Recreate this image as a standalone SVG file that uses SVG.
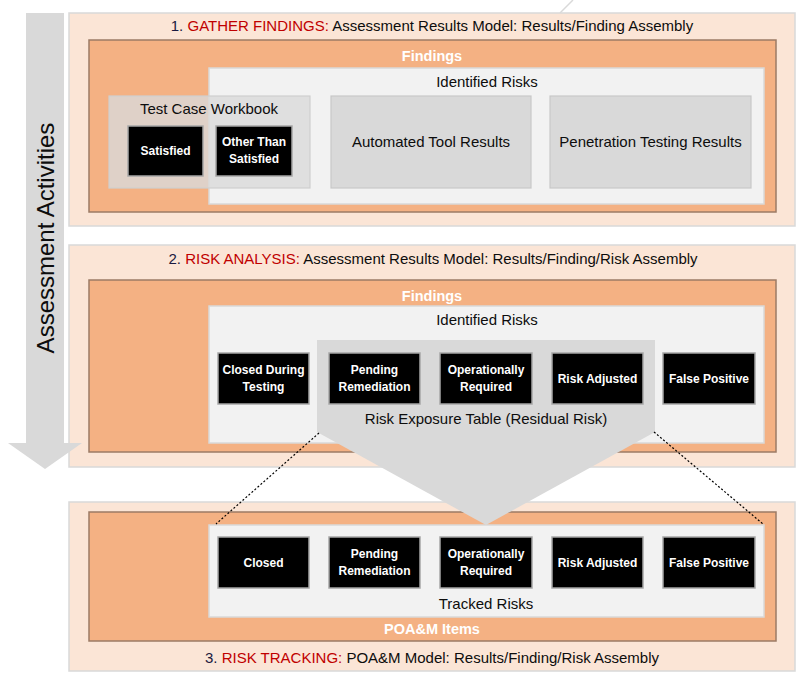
<svg xmlns="http://www.w3.org/2000/svg" width="805" height="685" viewBox="0 0 805 685">
<style>
text{font-family:"Liberation Sans",Arial,sans-serif;}
.outer{fill:#fbe5d6;stroke:#d9d9d9;stroke-width:1.5}
.orange{fill:#f4b183;stroke:#9c7b65;stroke-width:1.5}
.light{fill:#f2f2f2;stroke:#d9d9d9;stroke-width:1.5}
.gbox{fill:#d9d9d9;stroke:#c8c8c8;stroke-width:1.2}
.blk{fill:#000;stroke:#a6a6a6;stroke-width:1.5}
.bt{fill:#fff;font-weight:bold;font-size:12px;text-anchor:middle}
.title{font-size:15px;text-anchor:middle;fill:#0d0d0d}
.num{fill:#1a1a40}
.red{fill:#c00000}
.wt{fill:#fff;font-weight:bold;font-size:14.5px;text-anchor:middle}
.lab{font-size:15px;text-anchor:middle;fill:#0d0d0d}
.dot{stroke:#000;stroke-width:1.2;stroke-dasharray:2 2;fill:none}
</style>
<line x1="560" y1="13" x2="573" y2="0" stroke="#d9d9d9" stroke-width="1.5"/>
<g id="section1">
<rect class="outer" x="69" y="13" width="726" height="213"/>
<text class="title" x="432" y="31"><tspan class="num">1. </tspan><tspan class="red">GATHER FINDINGS:</tspan> Assessment Results Model: Results/Finding Assembly</text>
<rect class="orange" x="89" y="40" width="687" height="172"/>
<text class="wt" x="432" y="61">Findings</text>
<rect class="light" x="209" y="68" width="555" height="136"/>
<text class="lab" x="487" y="87">Identified Risks</text>
<g id="testcase">
<rect x="109" y="96" width="201" height="92" fill="#d9d9d9" fill-opacity="0.8" stroke="#cfcfcf" stroke-width="1.2"/>
<text class="lab" x="209" y="114">Test Case Workbook</text>
</g>
<g id="satisfied"><rect class="blk" x="128" y="126" width="75" height="50"/><text class="bt" x="165.5" y="155">Satisfied</text></g>
<g id="otherthan"><rect class="blk" x="216" y="126" width="76" height="50"/><text class="bt" x="254" y="146">Other Than</text><text class="bt" x="254" y="163">Satisfied</text></g>
<g id="automated"><rect class="gbox" x="331" y="96" width="200" height="92"/><text class="lab" x="431" y="147">Automated Tool Results</text></g>
<g id="pentest"><rect class="gbox" x="550" y="96" width="201" height="92"/><text class="lab" x="650.5" y="147">Penetration Testing Results</text></g>
</g>
<g id="section2">
<rect class="outer" x="69" y="245" width="726" height="222"/>
<text class="title" x="433" y="264"><tspan class="num">2. </tspan><tspan class="red">RISK ANALYSIS:</tspan> Assessment Results Model: Results/Finding/Risk Assembly</text>
<rect class="orange" x="89" y="280" width="687" height="172"/>
<text class="wt" x="432" y="301">Findings</text>
<rect class="light" x="209" y="306" width="555" height="137"/>
<text class="lab" x="487" y="325">Identified Risks</text>
</g>
<g id="section3">
<rect class="outer" x="69" y="502" width="726" height="169"/>
<rect class="orange" x="89" y="512" width="687" height="129"/>
<rect class="light" x="209" y="525" width="555" height="92"/>
<text class="lab" x="486" y="609">Tracked Risks</text>
<text class="wt" x="432" y="634">POA&amp;M Items</text>
<text class="title" x="432" y="663"><tspan class="num">3. </tspan><tspan class="red">RISK TRACKING:</tspan> POA&amp;M Model: Results/Finding/Risk Assembly</text>
</g>
<g id="riskexposure">
<polygon points="317,340 655,340 655,432 486,525 317,432" fill="#d9d9d9"/>
<text class="lab" x="486" y="424">Risk Exposure Table (Residual Risk)</text>
</g>
<g id="analysis-boxes">
<g id="closedduring"><rect class="blk" x="218" y="353" width="91" height="51"/><text class="bt" x="263.5" y="374">Closed During</text><text class="bt" x="263.5" y="391">Testing</text></g>
<g id="pending2"><rect class="blk" x="329" y="353" width="91" height="51"/><text class="bt" x="374.5" y="374">Pending</text><text class="bt" x="374.5" y="391">Remediation</text></g>
<g id="oper2"><rect class="blk" x="440" y="353" width="92" height="51"/><text class="bt" x="486" y="374">Operationally</text><text class="bt" x="486" y="391">Required</text></g>
<g id="riskadj2"><rect class="blk" x="552" y="353" width="91" height="51"/><text class="bt" x="597.5" y="383">Risk Adjusted</text></g>
<g id="falsepos2"><rect class="blk" x="663" y="353" width="92" height="51"/><text class="bt" x="709" y="383">False Positive</text></g>
</g>
<g id="tracking-boxes">
<g id="closed3"><rect class="blk" x="218" y="537" width="91" height="51"/><text class="bt" x="263.5" y="567">Closed</text></g>
<g id="pending3"><rect class="blk" x="329" y="537" width="91" height="51"/><text class="bt" x="374.5" y="558">Pending</text><text class="bt" x="374.5" y="575">Remediation</text></g>
<g id="oper3"><rect class="blk" x="440" y="537" width="92" height="51"/><text class="bt" x="486" y="558">Operationally</text><text class="bt" x="486" y="575">Required</text></g>
<g id="riskadj3"><rect class="blk" x="552" y="537" width="91" height="51"/><text class="bt" x="597.5" y="567">Risk Adjusted</text></g>
<g id="falsepos3"><rect class="blk" x="663" y="537" width="92" height="51"/><text class="bt" x="709" y="567">False Positive</text></g>
</g>
<g id="connectors">
<line class="dot" x1="319" y1="433" x2="216" y2="524"/>
<line class="dot" x1="654" y1="432" x2="763" y2="524"/>
</g>
<g id="activities">
<polygon points="26,13 64,13 64,443 82,443 45,469 8,443 26,443" fill="#d9d9d9"/>
<text x="45" y="238" transform="rotate(-90 45 238)" font-size="24" text-anchor="middle" dominant-baseline="central" fill="#0d0d0d">Assessment Activities</text>
</g>
</svg>
